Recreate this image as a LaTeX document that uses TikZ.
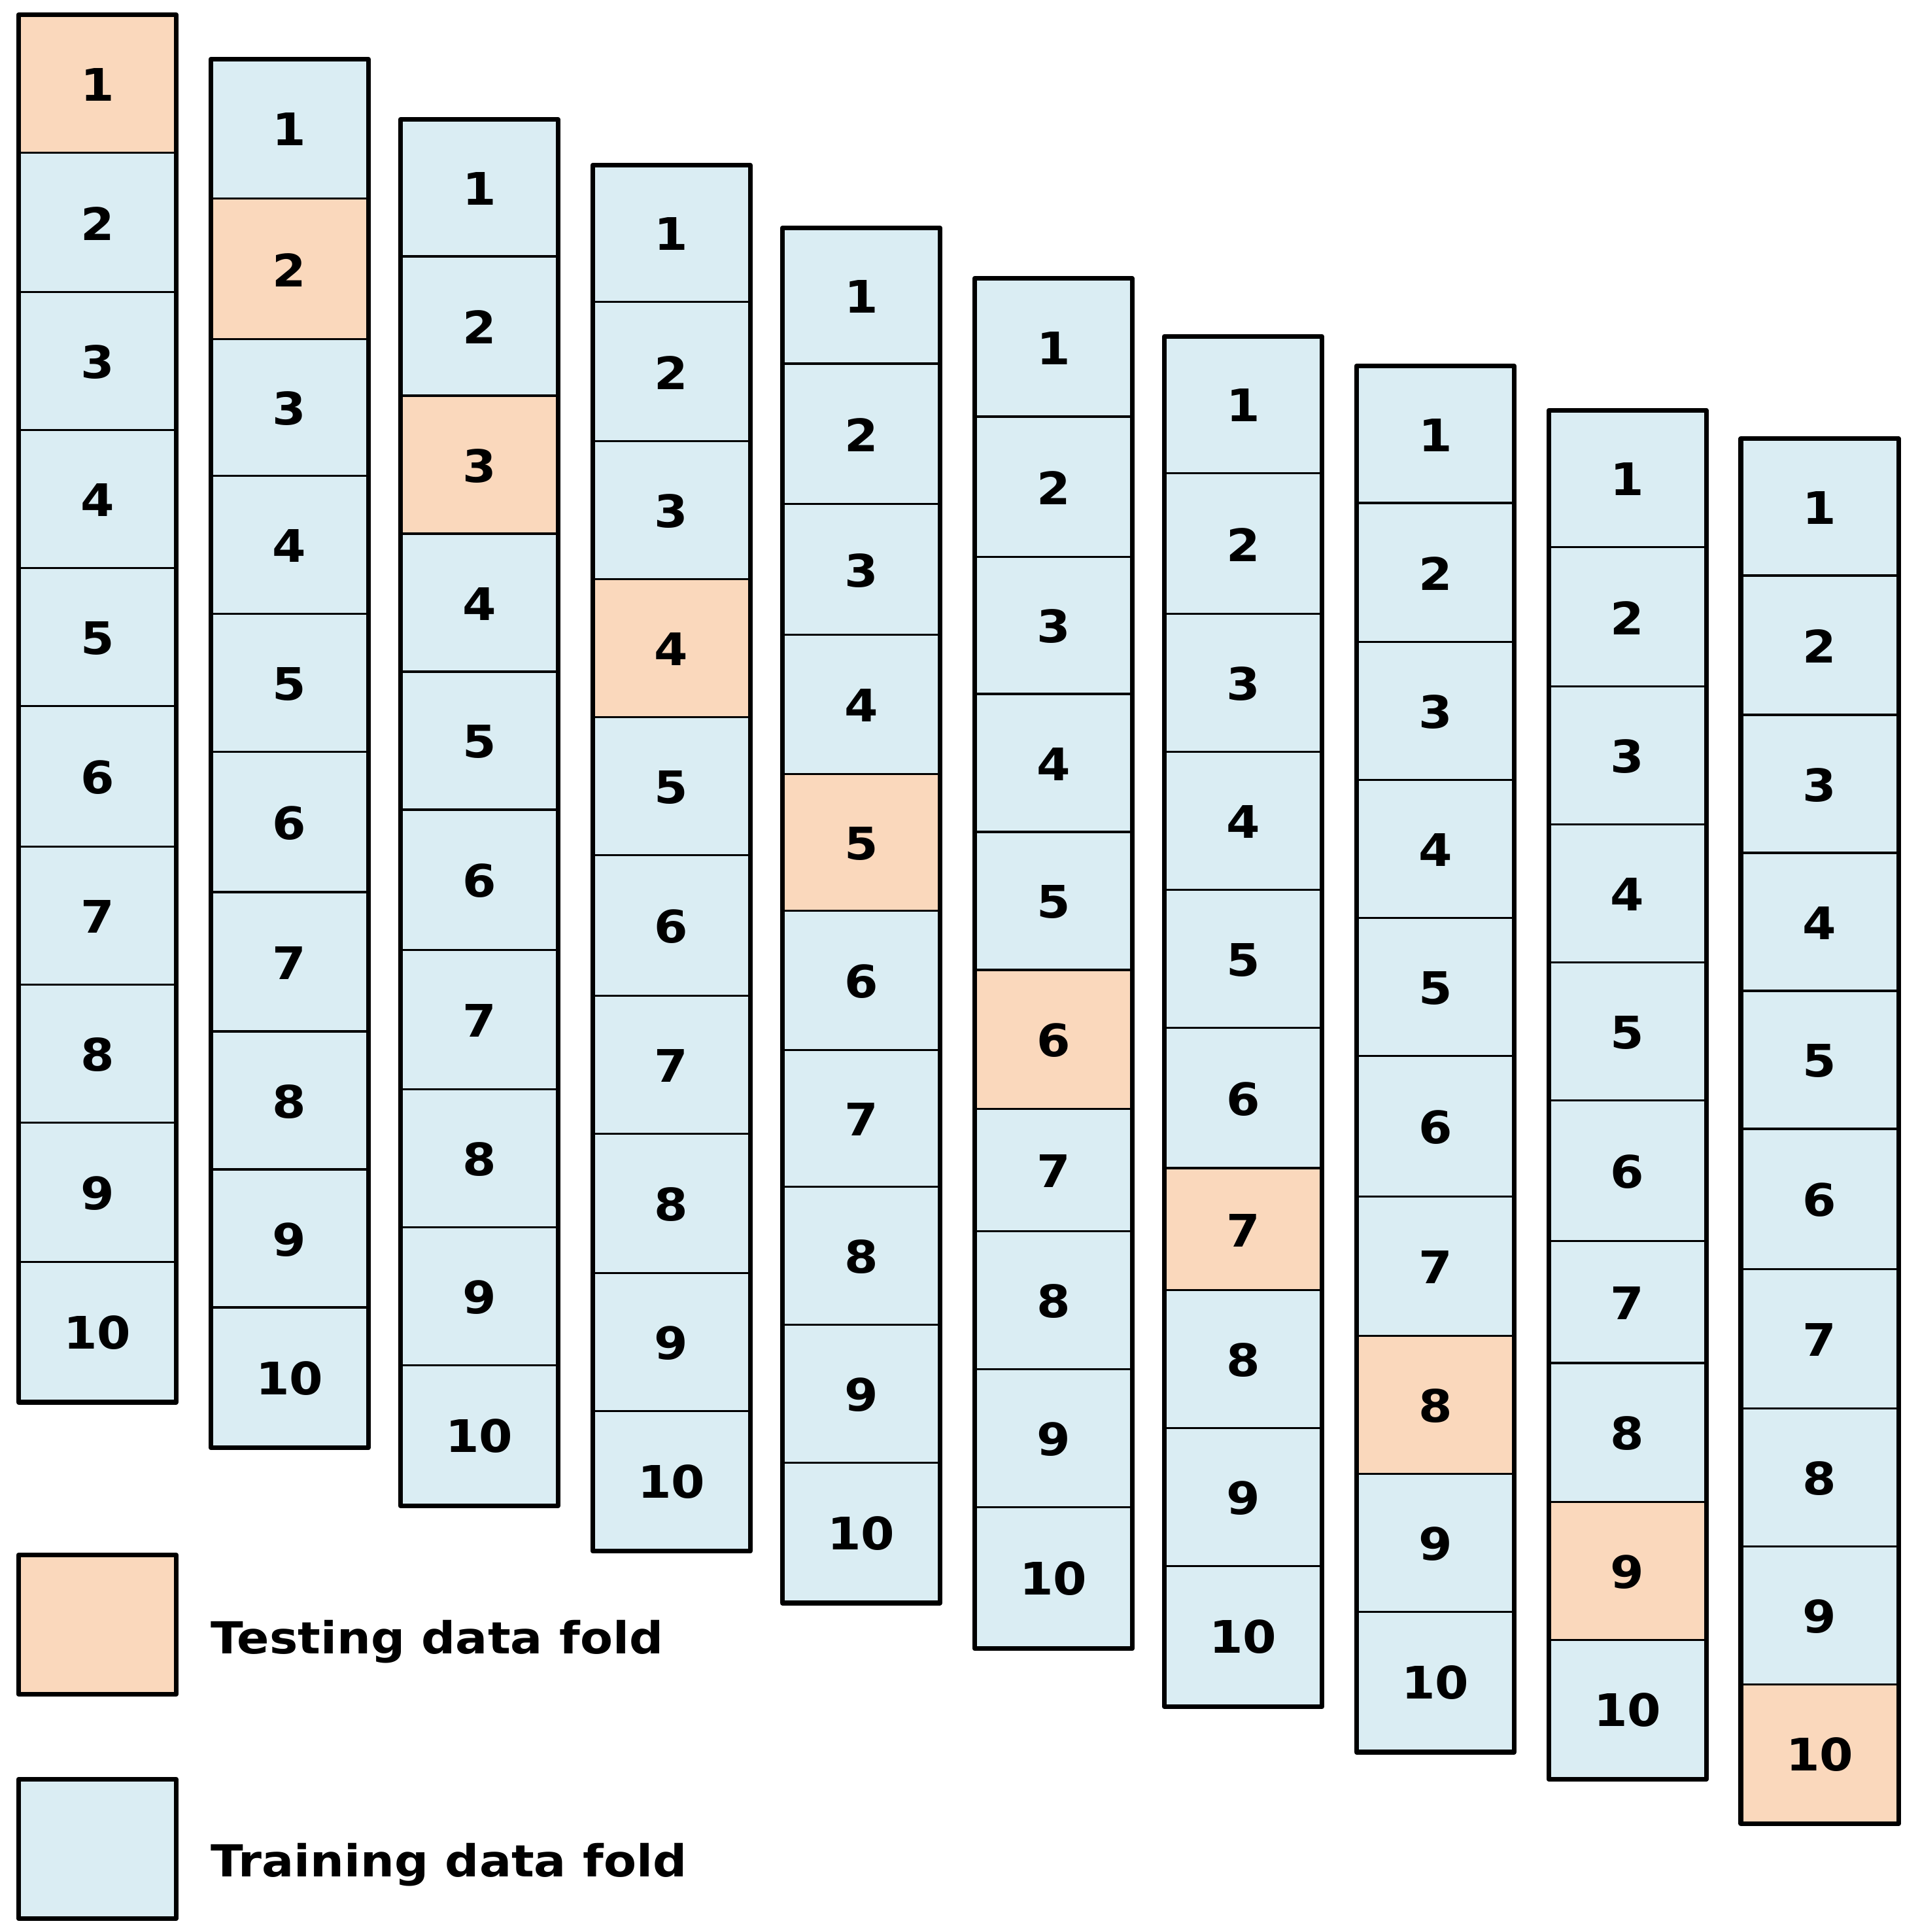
\documentclass[tikz,border=0pt]{standalone}
\usepackage{fontspec}
\newfontfamily\vfont{DejaVu Sans}[FakeStretch=1.08]
\definecolor{testc}{HTML}{FAD8BC}
\definecolor{trainc}{HTML}{DAEDF3}
\tikzset{
  num/.style={inner sep=0pt, font=\vfont\bfseries\fontsize{18.2}{21}\selectfont},
  legtext/.style={inner sep=0pt, anchor=base west, font=\vfont\bfseries\fontsize{17.9}{21}\selectfont},
  divider/.style={line width=1.8pt},
  outerframe/.style={line width=1.9pt, line join=round},
}
\newcommand\foldcol[6]{% #1 col, #2 x-left, #3 boundaries, #4 test fold, #5 top, #6 bottom
  \foreach \yb [count=\i, remember=\yb as \ya (initially 0)] in {#3} {
    \ifnum\i>1
      \pgfmathtruncatemacro\k{\i-1}
      \ifnum\k=#4 \def\fc{testc}\else\def\fc{trainc}\fi
      \path[fill=\fc] (#2,\ya) rectangle (#2+128,\yb);
      \node[num] (c#1-\k) at (#2+64,{(\ya+\yb)/2}) {\k};
      \ifnum\k<10 \draw[divider] (#2,\yb) -- (#2+128,\yb);\fi
    \fi
  }
  \draw[outerframe] (#2,#5) rectangle (#2+128,#6);
}
\begin{document}
\begin{tikzpicture}[x=0.5pt,y=-0.5pt]
\useasboundingbox (0,0) rectangle (1558,1568);
\foldcol{1}{15}{12,125,238,350,462,574,688,800,912,1025,1138}{1}{12}{1138}
\foldcol{2}{171}{48,162,276,387,499,611,725,838,950,1062,1175}{2}{48}{1175}
\foldcol{3}{325}{97,209,322,434,546,658,772,885,997,1109,1222}{3}{97}{1222}
\foldcol{4}{481}{134,246,359,471,583,695,809,921,1034,1146,1259}{4}{134}{1259}
\foldcol{5}{635}{185,296,410,516,629,740,853,964,1076,1188,1301}{5}{185}{1301}
\foldcol{6}{791}{226,339,453,564,676,788,901,1000,1112,1224,1338}{6}{226}{1338}
\foldcol{7}{945}{273,385,499,611,723,835,949,1048,1160,1272,1385}{7}{273}{1385}
\foldcol{8}{1101}{297,409,522,634,746,858,972,1085,1197,1309,1422}{8}{297}{1422}
\foldcol{9}{1257}{333,445,558,670,782,894,1008,1107,1220,1332,1444}{9}{333}{1444}
\foldcol{10}{1413}{356,468,581,693,805,917,1031,1144,1256,1368,1480}{10}{356}{1480}
% legend
\draw[outerframe, fill=testc] (15,1262) rectangle (143,1375);
\draw[outerframe, fill=trainc] (15,1444) rectangle (143,1557);
\node[legtext] (ltest) at (171,1342) {Testing data fold};
\node[legtext] (ltrain) at (171,1523) {Training data fold};
\end{tikzpicture}
\end{document}
